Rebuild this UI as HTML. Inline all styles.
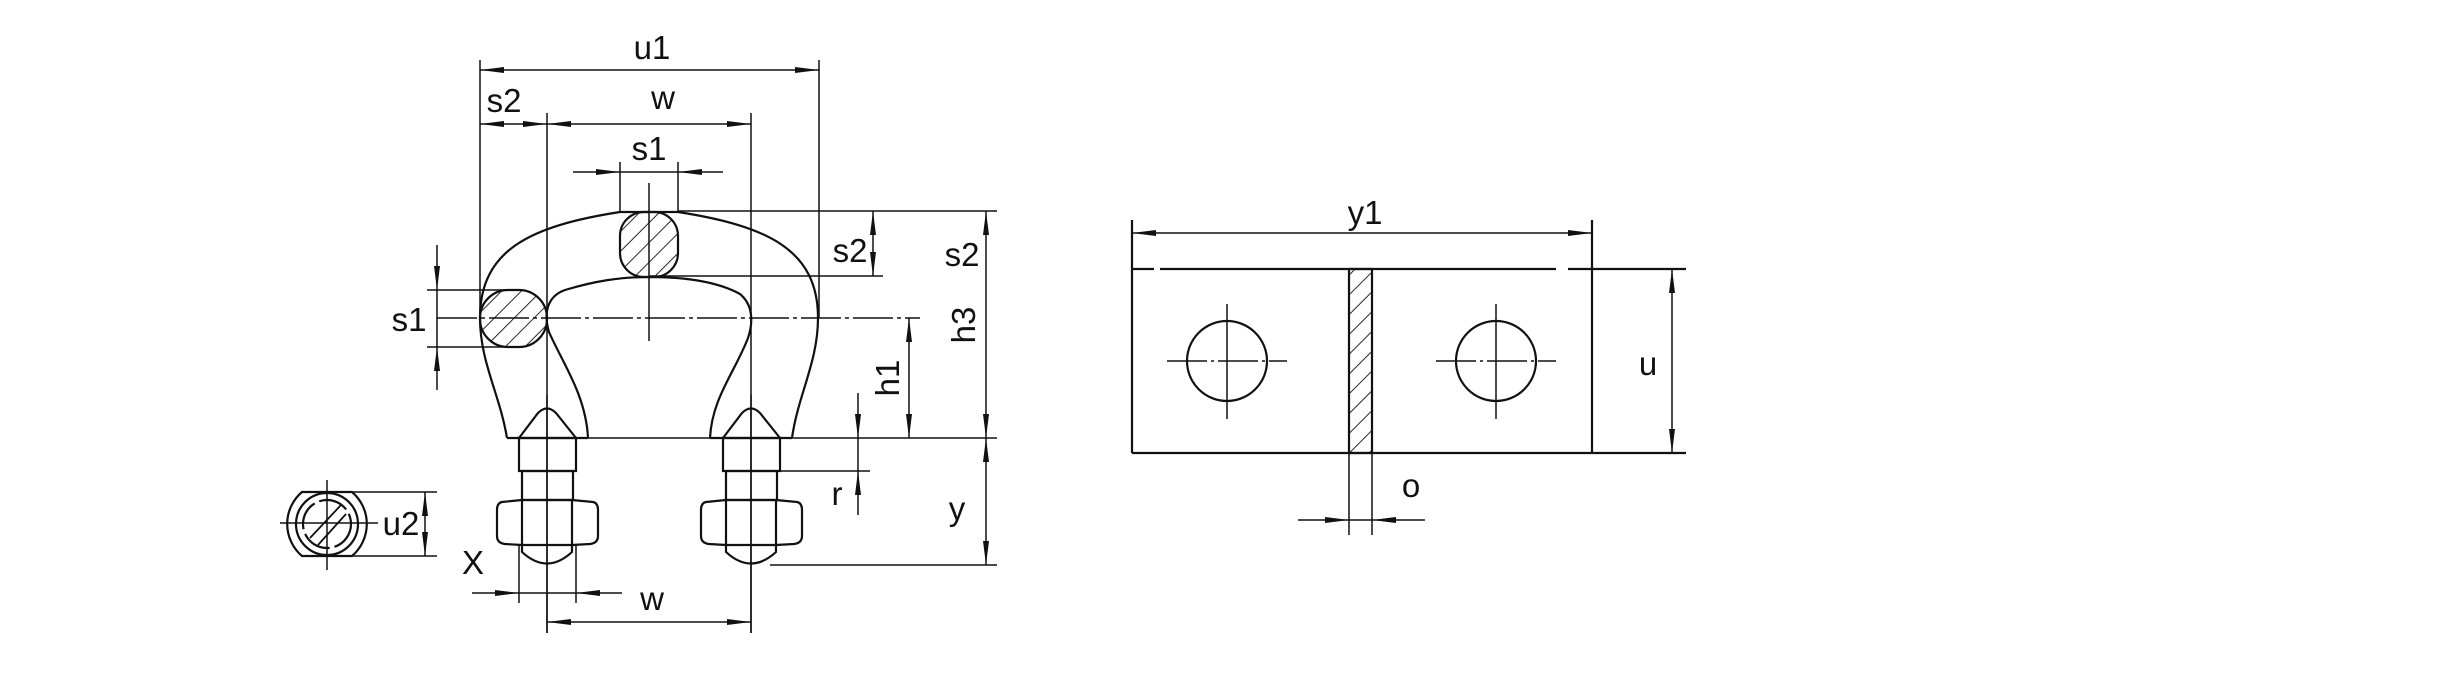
<!DOCTYPE html>
<html><head><meta charset="utf-8"><style>
html,body{margin:0;padding:0;background:#fff;}
svg{display:block;}
text{font-family:"Liberation Sans","DejaVu Sans",sans-serif;font-size:33px;fill:#111;}
</style></head><body>
<svg width="2464" height="678" viewBox="0 0 2464 678" xmlns="http://www.w3.org/2000/svg">
<defs>
<marker id="a" viewBox="0 0 24 8" refX="24" refY="4" markerWidth="24" markerHeight="8" markerUnits="userSpaceOnUse" orient="auto-start-reverse"><path d="M0,1 L24,4 L0,7 Q-2,4 0,1Z" fill="#111"/></marker>
<pattern id="h" patternUnits="userSpaceOnUse" width="14" height="14" patternTransform="rotate(45)"><line x1="0" y1="0" x2="0" y2="14" stroke="#111" stroke-width="1.8"/></pattern>
</defs>
<g fill="none" stroke="#111" stroke-width="1.5">
<line x1="480" y1="60" x2="480" y2="318"/>
<line x1="819" y1="60" x2="819" y2="318"/>
<line x1="547" y1="113" x2="547" y2="633"/>
<line x1="751" y1="113" x2="751" y2="633"/>
<line x1="620" y1="162" x2="620" y2="212"/>
<line x1="678" y1="162" x2="678" y2="212"/>
<line x1="649" y1="183" x2="649" y2="341"/>
<line x1="678" y1="211" x2="997" y2="211"/>
<line x1="649" y1="276" x2="883" y2="276"/>
<line x1="427" y1="290" x2="510" y2="290"/>
<line x1="427" y1="347" x2="510" y2="347"/>
<line x1="588" y1="438" x2="997" y2="438" />
<line x1="745" y1="471" x2="870" y2="471"/>
<line x1="770" y1="565" x2="997" y2="565"/>
<line x1="519" y1="545" x2="519" y2="603"/>
<line x1="576" y1="545" x2="576" y2="603"/>
<line x1="327" y1="480" x2="327" y2="570"/>
<line x1="280" y1="523" x2="378" y2="523"/>
<line x1="327" y1="492" x2="437" y2="492"/>
<line x1="327" y1="556" x2="437" y2="556"/>
<line x1="437" y1="318" x2="920" y2="318" stroke-dasharray="40,4,4,4"/>
</g>
<g fill="none" stroke="#111" stroke-width="1.5" marker-start="url(#a)" marker-end="url(#a)">
<line x1="480" y1="70" x2="819" y2="70"/>
<line x1="480" y1="124" x2="547" y2="124"/>
<line x1="547" y1="124" x2="751" y2="124"/>
<line x1="873" y1="211" x2="873" y2="276"/>
<line x1="909" y1="318" x2="909" y2="438"/>
<line x1="986" y1="211" x2="986" y2="438"/>
<line x1="986" y1="438" x2="986" y2="565"/>
<line x1="425" y1="492" x2="425" y2="556"/>
<line x1="547" y1="622" x2="751" y2="622"/>
<line x1="1132" y1="233" x2="1592" y2="233"/>
<line x1="1672" y1="269" x2="1672" y2="453"/>
</g>
<g fill="none" stroke="#111" stroke-width="1.5">
<line x1="573" y1="172" x2="723" y2="172"/>
<line x1="437" y1="245" x2="437" y2="390"/>
<line x1="858" y1="393" x2="858" y2="515"/>
<line x1="472" y1="593" x2="622" y2="593"/>
<line x1="1298" y1="520" x2="1425" y2="520"/>
</g>
<g fill="#111">
<path d="M620,172 l-24,-3 v6z"/><path d="M678,172 l24,-3 v6z"/>
<path d="M437,290 l-3,-24 h6z"/><path d="M437,347 l-3,24 h6z"/>
<path d="M858,438 l-3,-24 h6z"/><path d="M858,471 l-3,24 h6z"/>
<path d="M519,593 l-24,-3 v6z"/><path d="M576,593 l24,-3 v6z"/>
<path d="M1349,520 l-24,-3 v6z"/><path d="M1372,520 l24,-3 v6z"/>
</g>
<g fill="none" stroke="#111" stroke-width="2.2">
<path d="M507,438 C500,395 480,362 480,318 C480,250 530,226 620,212 L678,212 C768,226 818,250 818,318 C818,362 798,395 792,438"/>
<path d="M588,438 C586,395 562,362 549,332 C543,312 548,296 565,290 C595,281 620,277 649,277 C690,277 720,283 740,294 C752,304 754,320 748,338 C735,372 712,398 710,438"/>
<line x1="507" y1="438" x2="588" y2="438"/>
<line x1="710" y1="438" x2="792" y2="438"/>
<rect x="480" y="290" width="67" height="57" rx="28" fill="url(#h)"/>
<rect x="620" y="212" width="58" height="65" rx="24" fill="url(#h)"/>
</g>
<g id="bolt" fill="none" stroke="#111" stroke-width="2.2">
<path d="M519,438 L538,413 Q547,404 556,413 L576,438"/>
<rect x="519" y="438" width="57" height="33"/>
<rect x="522" y="471" width="51" height="29"/>
<path d="M522,500 L502,502 Q497,503 497,510 L497,536 Q497,543 505,544 L522,545 L572,545 L590,544 Q598,543 598,536 L598,510 Q598,503 593,502 L572,500 Z"/>
<line x1="522" y1="500" x2="522" y2="545"/>
<line x1="572" y1="500" x2="572" y2="545"/>
<path d="M522,545 L522,552 Q547,575 572,552 L572,545"/>
<line x1="547" y1="395" x2="547" y2="633" stroke-width="1.5"/>
</g>
<use href="#bolt" x="204"/>
<g fill="none" stroke="#111" stroke-width="2.2">
<path d="M302,492 L352,492 A42,42 0 0 1 352,556 L302,556 A42,42 0 0 1 302,492Z"/>
<circle cx="327" cy="524" r="31"/>
<circle cx="327" cy="524" r="24" stroke-dasharray="30,5"/>
<path d="M310,538 L341,505 M318,545 L346,514" stroke-width="1.8"/>
</g>
<g fill="none" stroke="#111" stroke-width="2.2">
<line x1="1132" y1="220" x2="1132" y2="453"/>
<line x1="1592" y1="220" x2="1592" y2="453"/>
<line x1="1132" y1="269" x2="1154" y2="269"/>
<line x1="1160" y1="269" x2="1556" y2="269"/>
<line x1="1568" y1="269" x2="1686" y2="269"/>
<line x1="1132" y1="453" x2="1686" y2="453"/>
<rect x="1349" y="269" width="23" height="184" fill="url(#h)"/>
<line x1="1349" y1="453" x2="1349" y2="535" stroke-width="1.5"/>
<line x1="1372" y1="453" x2="1372" y2="535" stroke-width="1.5"/>
<circle cx="1227" cy="361" r="40"/>
<circle cx="1496" cy="361" r="40"/>
<g stroke-width="1.5">
<line x1="1167" y1="361" x2="1287" y2="361" stroke-dasharray="40,4,3,4"/>
<line x1="1227" y1="304" x2="1227" y2="419"/>
<line x1="1436" y1="361" x2="1556" y2="361" stroke-dasharray="40,4,3,4"/>
<line x1="1496" y1="304" x2="1496" y2="419"/>
</g>
</g>
<g text-anchor="middle">
<text x="652" y="59">u1</text>
<text x="504" y="112">s2</text>
<text x="663" y="109">w</text>
<text x="649" y="160">s1</text>
<text x="409" y="331">s1</text>
<text x="850" y="262">s2</text>
<text x="962" y="266">s2</text>
<text transform="translate(963,325) rotate(-90)" y="12" fill="#555">h3</text>
<text transform="translate(887,378) rotate(-90)" y="12" fill="#555">h1</text>
<text x="837" y="505">r</text>
<text x="957" y="520">y</text>
<text x="401" y="535">u2</text>
<text x="473" y="574">X</text>
<text x="652" y="610">w</text>
<text x="1365" y="224">y1</text>
<text x="1648" y="375">u</text>
<text x="1411" y="497">o</text>
</g>
</svg>
</body></html>
